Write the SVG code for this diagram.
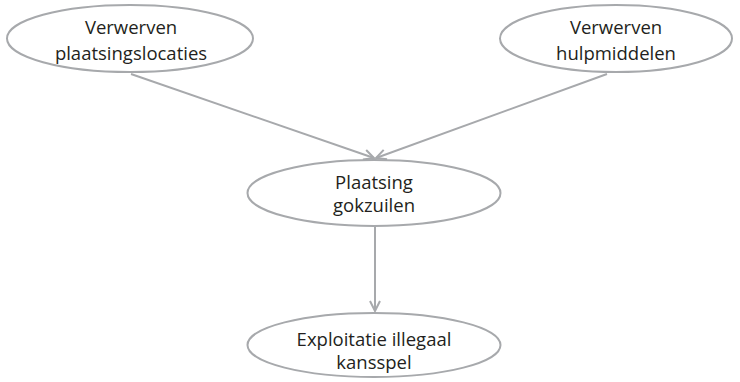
<svg xmlns="http://www.w3.org/2000/svg" width="740" height="382" viewBox="0 0 740 382">
<style>
.node ellipse{fill:#ffffff;stroke:#a7a9ac;stroke-width:2}
.node text{font-family:"Open Sans","Liberation Sans",sans-serif;font-size:18.5px;fill:#231f20;text-anchor:middle}
.edge{stroke:#a7a9ac;stroke-width:2;fill:none}
</style>
<defs>
<marker id="arr" viewBox="0 0 12 12" refX="11" refY="6" markerWidth="12" markerHeight="12" markerUnits="userSpaceOnUse" orient="auto">
<path d="M1,1 L11,6 L1,11" fill="none" stroke="#a7a9ac" stroke-width="2"/>
</marker>
</defs>
<rect width="740" height="382" fill="#ffffff"/>
<g id="connectors">
<line class="edge" x1="131" y1="74" x2="374" y2="158" marker-end="url(#arr)"/>
<line class="edge" x1="607" y1="74" x2="376" y2="158" marker-end="url(#arr)"/>
<line class="edge" x1="375" y1="227" x2="375" y2="311" marker-end="url(#arr)"/>
</g>
<g id="node-plaatsingslocaties" class="node">
<ellipse cx="130" cy="38.5" rx="123" ry="33.5"/>
<text x="131" y="34">Verwerven</text>
<text x="131" y="59.5">plaatsingslocaties</text>
</g>
<g id="node-hulpmiddelen" class="node">
<ellipse cx="616" cy="38.5" rx="116" ry="33.5"/>
<text x="616" y="34">Verwerven</text>
<text x="616" y="59.5">hulpmiddelen</text>
</g>
<g id="node-plaatsing" class="node">
<ellipse cx="374" cy="193" rx="126.5" ry="33"/>
<text x="374" y="189">Plaatsing</text>
<text x="374" y="212">gokzuilen</text>
</g>
<g id="node-exploitatie" class="node">
<ellipse cx="374" cy="345" rx="126.5" ry="32"/>
<text x="374" y="346">Exploitatie illegaal</text>
<text x="374" y="369">kansspel</text>
</g>
</svg>
